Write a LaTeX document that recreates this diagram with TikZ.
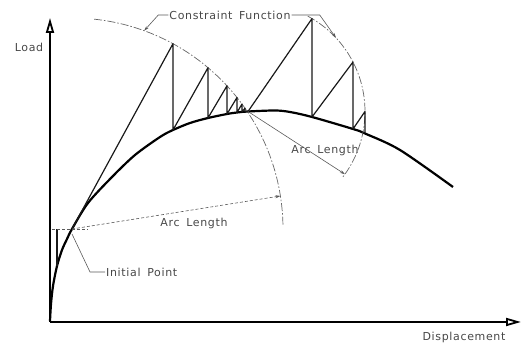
\documentclass[tikz,border=0pt]{standalone}
\usepackage{fontspec}
\newfontfamily\cadfont[LetterSpace=6,WordSpace=1.6]{DejaVu Sans}
\usetikzlibrary{arrows.meta, positioning, calc}

\begin{document}
\begin{tikzpicture}[
      x=1pt, y=1pt,
      lbl/.style={font=\cadfont\fontsize{11}{13}\selectfont, text=black!72, inner sep=1pt},
      axis/.style={line width=1.8pt, -{Triangle[open, length=15pt, width=8pt]}},
      loadpath/.style={line width=2.2pt, line join=round},
      iter/.style={line width=1.2pt, black!90, line join=round},
      limit/.style={line width=0.7pt, black!60, dash pattern=on 8pt off 2pt on 1.5pt off 2pt},
      lead/.style={line width=0.6pt, black!65, -{Stealth[length=5pt, width=3pt]}},
      guide/.style={line width=0.6pt, black!65}
    ]
    \useasboundingbox (0,0) rectangle (523,344);

    % axes
    \coordinate (O) at (50,22);
    \coordinate (ytip) at (50,326);
    \coordinate (xtip) at (521,22);
    \draw[axis] (O) -- (ytip);
    \draw[axis] (O) -- (xtip);
    \node[lbl] (load) at (29,297) {Load};
    \node[lbl] (disp) at (464,7) {Displacement};

    % equilibrium path
    \draw[loadpath] plot[smooth, tension=0.5] coordinates {
      (50,23) (51,40) (53,58) (57,78) (62,94) (67,105) (72,115) (88,141)
      (112,167) (135,189) (160,207) (173,214) (190,221) (208,226) (227,230)
      (237,231.5) (248,232.5) (275,233.5) (290,232) (312,227) (353,215)
      (365,210.5) (400,194) (453,157)};

    \coordinate (P0) at (72,115);
    \coordinate (P1) at (248,232.5);
    \coordinate (c2) at (257,232.5);

    % first step
    \coordinate (s0) at (57,78);
    \coordinate (s1) at (57,115);
    \coordinate (h0) at (52,115);
    \coordinate (h1) at (88,115);
    \draw[iter] (s0) -- (s1);
    \draw[guide, densely dashed] (h0) -- (h1);

    % constraint functions
    \draw[limit] ($(P0)+(84:211)$) arc[start angle=84, end angle=1, radius=211];
    \draw[limit] ($(c2)+(62:108)$) arc[start angle=62, end angle=-38, radius=108];

    % iterations
    \draw[iter] (P0) -- (173,300.3) -- (173,214) -- (208,276.3) -- (208,226)
      -- (227,258.2) -- (227,230) -- (237,246.5) -- (237,231.5) -- (242,240)
      -- (242,232.1) -- (245,235.8) -- (245,232.3) -- (P1);
    \draw[iter] (P1) -- (312,325.4) -- (312,227) -- (353,282) -- (353,215)
      -- (365,232.5) -- (365,210.5);

    % labels
    \node[lbl] (cf) at (230,329) {Constraint Function};
    \draw[lead] (cf.west) -- ++(-10,0) -- ($(P0)+(70:211)$);
    \draw[lead] (cf.east) -- ++(28,0) -- ($(c2)+(43:108)$);

    \draw[lead, densely dashed] (P0) -- ($(P0)+(9:211)$);
    \node[lbl] (arc1) at (194,121) {Arc Length};
    \draw[lead] (P1) -- ($(c2)+(-35.5:108)$);
    \node[lbl] (arc2) at (325,194) {Arc Length};

    \node[lbl, anchor=west] (ip) at (105,72) {Initial Point};
    \draw[guide] (ip.west) -- ++(-15,0) -- ($(P0)+(0,-5)$);
  \end{tikzpicture}
\end{document}
